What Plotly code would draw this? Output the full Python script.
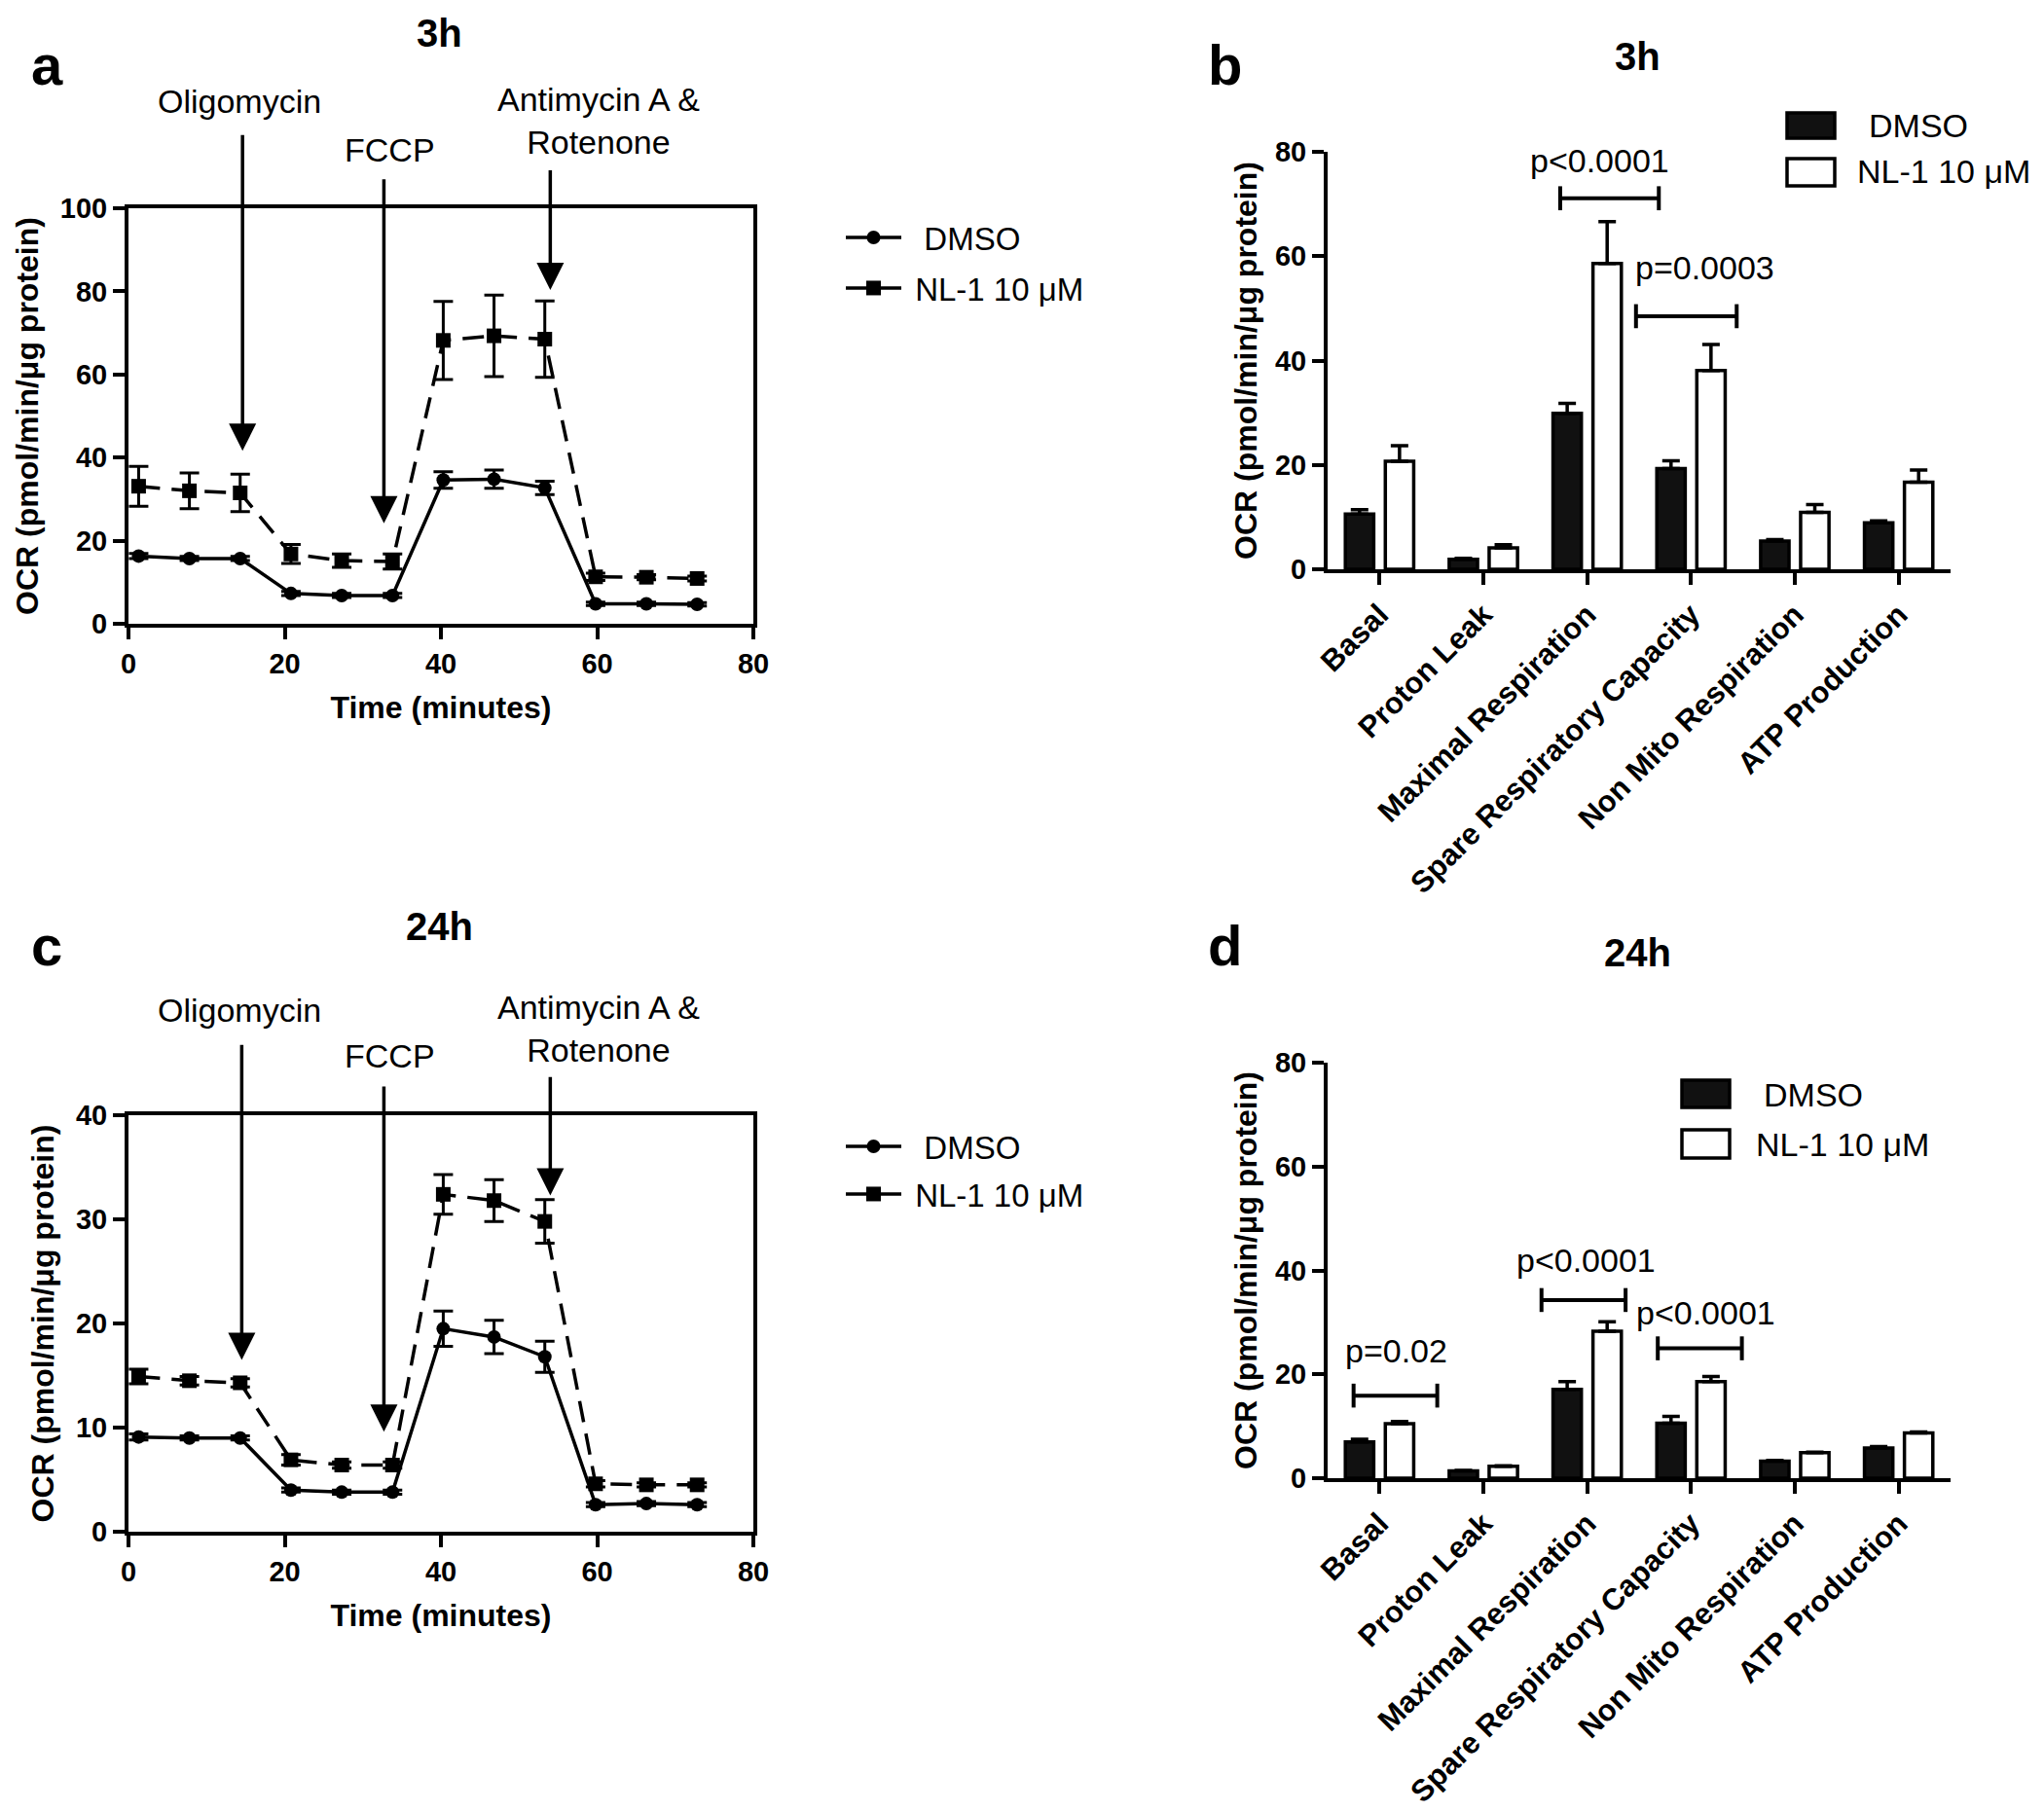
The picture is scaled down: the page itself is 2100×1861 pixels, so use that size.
import plotly.graph_objects as go

# ---------------- data ----------------
times = [1.3, 7.8, 14.3, 20.8, 27.3, 33.8, 40.3, 46.8, 53.3, 59.8, 66.3, 72.8]

a_dmso = [16.3, 15.7, 15.7, 7.3, 6.8, 6.8, 34.6, 34.8, 32.7, 4.8, 4.8, 4.7]
a_dmso_err = [0.6, 0.5, 0.5, 0.5, 0.5, 0.5, 2.0, 2.2, 1.6, 0.4, 0.4, 0.4]
a_nl1 = [33.1, 32.0, 31.5, 16.8, 15.2, 15.0, 68.2, 69.3, 68.5, 11.3, 11.2, 10.9]
a_nl1_err = [4.8, 4.3, 4.5, 2.3, 1.6, 1.8, 9.4, 9.8, 9.2, 0.9, 0.6, 0.6]

c_dmso = [9.1, 9.0, 9.0, 4.0, 3.8, 3.8, 19.5, 18.7, 16.8, 2.6, 2.7, 2.6]
c_dmso_err = [0.3, 0.2, 0.2, 0.2, 0.2, 0.2, 1.7, 1.6, 1.5, 0.2, 0.2, 0.2]
c_nl1 = [14.9, 14.5, 14.3, 6.9, 6.4, 6.4, 32.4, 31.8, 29.8, 4.6, 4.5, 4.5]
c_nl1_err = [0.7, 0.4, 0.4, 0.5, 0.3, 0.3, 1.9, 2.0, 2.1, 0.3, 0.2, 0.2]

categories = ["Basal", "Proton Leak", "Maximal Respiration",
              "Spare Respiratory Capacity", "Non Mito Respiration", "ATP Production"]
b_dmso = [10.6, 1.9, 29.9, 19.3, 5.4, 8.9]
b_dmso_err = [0.8, 0.2, 1.9, 1.5, 0.3, 0.4]
b_nl1 = [20.7, 4.1, 58.6, 38.1, 10.9, 16.7]
b_nl1_err = [3.0, 0.6, 8.0, 5.0, 1.5, 2.3]

d_dmso = [7.0, 1.4, 17.1, 10.6, 3.3, 5.8]
d_dmso_err = [0.5, 0.1, 1.5, 1.3, 0.1, 0.3]
d_nl1 = [10.5, 2.3, 28.3, 18.6, 4.9, 8.7]
d_nl1_err = [0.4, 0.1, 1.8, 1.0, 0.1, 0.2]

series_names = ["DMSO", "NL-1 10 μM"]
y_title = "OCR (pmol/min/μg protein)"
x_title = "Time (minutes)"

# injection annotations: (label, x, tip_y, tail_y, label_x, label_y)
a_injections = [("Oligomycin", 14.6, 41.6, 118, 14.2, 125.8),
                ("FCCP", 32.7, 24.2, 107.3, 33.4, 114.0),
                ("Antimycin A &<br>Rotenone", 54.0, 80.3, 109.5, 60.2, 121.0)]
c_injections = [("Oligomycin", 14.5, 16.5, 46.9, 14.2, 50.1),
                ("FCCP", 32.7, 9.6, 42.9, 33.4, 45.7),
                ("Antimycin A &<br>Rotenone", 54.0, 32.3, 43.8, 60.2, 48.3)]

# significance brackets: (x_start, x_end, y, label, label_x, label_y)
b_brackets = [(1.74, 2.69, 71.1, "p<0.0001", 2.12, 78.4),
              (2.47, 3.44, 48.5, "p=0.0003", 3.13, 57.9)]
d_brackets = [(-0.25, 0.556, 15.9, "p=0.02", 0.16, 24.5),
              (1.56, 2.37, 34.3, "p<0.0001", 1.99, 41.9),
              (2.68, 3.49, 25.0, "p<0.0001", 3.14, 31.8)]

# ---------------- helpers ----------------
W, H = 2100, 1861
FONT = "Liberation Sans, Arial, sans-serif"


def px(x):
    return x / W


def py(y):
    return 1 - y / H


dom_ax = [px(132), px(774)]
dom_ay = [py(641), py(214)]
dom_cy = [py(1574), py(1146)]
dom_bx = [px(1364), px(2004)]
dom_by = [py(585), py(156)]
dom_dy = [py(1519), py(1092)]
rng_x = [0, 80]
rng_ay = [0, 100]
rng_cy = [0, 40]

fig = go.Figure()

line_styles = [dict(color="black", width=3.5, dash="solid"),
               dict(color="black", width=3.5, dash="22px,12px")]
marker_styles = [dict(symbol="circle", size=14, color="black"),
                 dict(symbol="square", size=15, color="black")]
legend_labels = ["\u00a0\u00a0DMSO", "\u00a0NL-1 10 μM"]


def add_lines(xa, ya, series, errs, legends):
    for i, (vals, err) in enumerate(zip(series, errs)):
        fig.add_trace(go.Scatter(
            x=times, y=vals, mode="lines+markers", name=series_names[i],
            line=line_styles[i], marker=marker_styles[i],
            error_y=dict(type="data", array=err, visible=True, color="black",
                         thickness=3, width=10),
            xaxis=xa, yaxis=ya, showlegend=False))
        # legend entry (solid icon, as in the original key)
        fig.add_trace(go.Scatter(
            x=[None], y=[None], mode="lines+markers", name=legend_labels[i],
            line=dict(color="black", width=3.5), marker=marker_styles[i],
            xaxis=xa, yaxis=ya, legend=legends[i], hoverinfo="skip"))


add_lines("x", "y", [a_dmso, a_nl1], [a_dmso_err, a_nl1_err], ["legend", "legend2"])
add_lines("x3", "y3", [c_dmso, c_nl1], [c_dmso_err, c_nl1_err], ["legend3", "legend4"])


def add_bars(xa, ya, series, errs):
    fills = ["#111111", "white"]
    for i, (vals, err) in enumerate(zip(series, errs)):
        fig.add_trace(go.Bar(
            x=categories, y=vals, name=series_names[i], showlegend=False,
            marker=dict(color=fills[i], line=dict(color="black", width=3.5)),
            error_y=dict(type="data", symmetric=False, array=err,
                         arrayminus=[0] * len(err), visible=True,
                         color="black", thickness=3.5, width=9),
            xaxis=xa, yaxis=ya))


add_bars("x2", "y2", [b_dmso, b_nl1], [b_dmso_err, b_nl1_err])
add_bars("x4", "y4", [d_dmso, d_nl1], [d_dmso_err, d_nl1_err])

# ---------------- axes ----------------
tickfont = dict(family=FONT, size=29, color="black", weight="bold")
titlefont = dict(family=FONT, size=32, color="black", weight="bold")

line_x = dict(range=rng_x, tickvals=[0, 20, 40, 60, 80], ticks="outside",
              ticklen=12, tickwidth=3.5, tickcolor="black", showline=True,
              linewidth=4, linecolor="black", mirror=True, showgrid=False,
              zeroline=False, tickfont=tickfont, automargin=False,
              title=dict(text=x_title, font=titlefont, standoff=20))
line_y_common = dict(ticks="outside", ticklen=12, tickwidth=3.5, tickcolor="black",
                     showline=True, linewidth=4, linecolor="black", mirror=True,
                     showgrid=False, zeroline=False, tickfont=tickfont,
                     automargin=False,
                     title=dict(text=y_title, font=titlefont, standoff=14))

bar_x = dict(ticks="outside", ticklen=12, tickwidth=3.5, tickcolor="black",
             showline=True, linewidth=4, linecolor="black", showgrid=False,
             zeroline=False, tickangle=-45, automargin=False,
             tickfont=dict(family=FONT, size=31, color="black", weight="bold"))
bar_y = dict(range=[0, 80], tickvals=[0, 20, 40, 60, 80], ticks="outside",
             ticklen=12, tickwidth=3.5, tickcolor="black", showline=True,
             linewidth=4, linecolor="black", showgrid=False, zeroline=False,
             tickfont=tickfont, automargin=False,
             title=dict(text=y_title, font=titlefont, standoff=10))

fig.update_layout(
    xaxis=dict(domain=dom_ax, anchor="y", **line_x),
    yaxis=dict(domain=dom_ay, anchor="x", range=rng_ay,
               tickvals=[0, 20, 40, 60, 80, 100], **line_y_common),
    xaxis3=dict(domain=dom_ax, anchor="y3", **line_x),
    yaxis3=dict(domain=dom_cy, anchor="x3", range=rng_cy,
                tickvals=[0, 10, 20, 30, 40], **line_y_common),
    xaxis2=dict(domain=dom_bx, anchor="y2", **bar_x),
    yaxis2=dict(domain=dom_by, anchor="x2", **bar_y),
    xaxis4=dict(domain=dom_bx, anchor="y4", **bar_x),
    yaxis4=dict(domain=dom_dy, anchor="x4", **bar_y),
    barmode="group", bargap=0.23, bargroupgap=0.29,
    width=W, height=H, margin=dict(l=0, r=0, t=0, b=0, autoexpand=False),
    paper_bgcolor="white", plot_bgcolor="white",
    font=dict(family=FONT, color="black"),
)

legfont = dict(family=FONT, size=33, color="black")
for name, yy in [("legend", 244), ("legend2", 296), ("legend3", 1178), ("legend4", 1227)]:
    fig.layout[name] = dict(x=px(864), y=py(yy), xanchor="left", yanchor="middle",
                            font=legfont, bgcolor="rgba(0,0,0,0)", itemwidth=57,
                            borderwidth=0)

# ---------------- annotations ----------------
ann = []
shapes = []


def to_paper(v, rng, dom):
    return dom[0] + (v - rng[0]) / (rng[1] - rng[0]) * (dom[1] - dom[0])


for xa, ya, inj, yr, yd in [("x", "y", a_injections, rng_ay, dom_ay),
                            ("x3", "y3", c_injections, rng_cy, dom_cy)]:
    for label, xv, tip, tail, lx, ly in inj:
        ann.append(dict(x=xv, y=tip, ax=xv, ay=tail, xref=xa, yref=ya,
                        axref=xa, ayref=ya, text="", showarrow=True,
                        arrowhead=2, arrowsize=1.6, arrowwidth=3.5,
                        arrowcolor="black"))
        ann.append(dict(x=to_paper(lx, rng_x, dom_ax), y=to_paper(ly, yr, yd),
                        xref="paper", yref="paper", text=label, showarrow=False,
                        font=dict(family=FONT, size=34, color="black"),
                        xanchor="center", yanchor="middle"))

for xa, ya, brs in [("x2", "y2", b_brackets), ("x4", "y4", d_brackets)]:
    for x0, x1, yv, label, lx, ly in brs:
        line = dict(color="black", width=4)
        shapes.append(dict(type="line", xref=xa, yref=ya, x0=x0, x1=x1, y0=yv, y1=yv, line=line))
        for xe in (x0, x1):
            shapes.append(dict(type="line", xref=xa, yref=ya, x0=xe, x1=xe,
                               y0=yv - 2.3, y1=yv + 2.3, line=line))
        ann.append(dict(x=lx, y=ly, xref=xa, yref=ya, text=label, showarrow=False,
                        font=dict(family=FONT, size=34, color="black"),
                        xanchor="center", yanchor="middle"))

# bar-panel legends (boxes + text)
for (r_x0, r_x1, rows) in [
        (1836, 1885, [(116, 142, "#111111", "DMSO", 1918, 129),
                      (163, 191, "white", "NL-1 10 μM", 1906, 176)]),
        (1728, 1777, [(1110, 1138, "#111111", "DMSO", 1810, 1125),
                      (1161, 1190, "white", "NL-1 10 μM", 1802, 1176)])]:
    for (y0, y1, fill, label, tx, ty) in rows:
        shapes.append(dict(type="rect", xref="paper", yref="paper",
                           x0=px(r_x0), x1=px(r_x1), y0=py(y1), y1=py(y0),
                           fillcolor=fill, line=dict(color="black", width=3.5)))
        ann.append(dict(x=px(tx), y=py(ty), xref="paper", yref="paper", text=label,
                        showarrow=False, xanchor="left", yanchor="middle",
                        font=dict(family=FONT, size=34, color="black")))

# panel letters and titles
for letter, lx, ly, title, tx, ty in [("a", 48, 66, "3h", 451, 34),
                                      ("b", 1258, 66, "3h", 1682, 58),
                                      ("c", 48, 972, "24h", 451, 952),
                                      ("d", 1258, 972, "24h", 1682, 979)]:
    ann.append(dict(x=px(lx), y=py(ly), xref="paper", yref="paper", text=letter,
                    showarrow=False, xanchor="center", yanchor="middle",
                    font=dict(family=FONT, size=58, color="black", weight="bold")))
    ann.append(dict(x=px(tx), y=py(ty), xref="paper", yref="paper", text=title,
                    showarrow=False, xanchor="center", yanchor="middle",
                    font=dict(family=FONT, size=40, color="black", weight="bold")))

fig.update_layout(annotations=ann, shapes=shapes)

fig.write_html("out.html", config={"displayModeBar": False},
               post_script="document.body.style.margin='0';document.body.style.padding='0';")
